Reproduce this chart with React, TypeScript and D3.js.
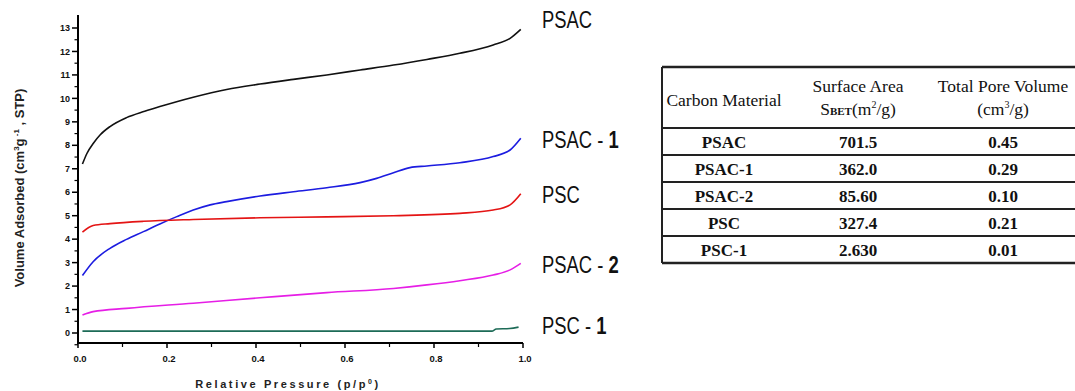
import React from "react";
import * as d3 from "d3";

const xTicks = [0, 0.2, 0.4, 0.6, 0.8, 1.0];
const xMinor = [0.1, 0.3, 0.5, 0.7, 0.9];
const yTicks = [0, 1, 2, 3, 4, 5, 6, 7, 8, 9, 10, 11, 12, 13];

const psacP = [0.01, 0.02, 0.035, 0.05, 0.072, 0.109, 0.15, 0.184, 0.259, 0.334, 0.409, 0.484, 0.559, 0.634, 0.709, 0.784, 0.858, 0.933, 0.971, 0.995];
const psacV = [7.2, 7.65, 8.1, 8.45, 8.8, 9.18, 9.45, 9.65, 10.05, 10.38, 10.61, 10.81, 11.0, 11.21, 11.42, 11.66, 11.92, 12.28, 12.56, 12.94];

const psac1P = [0.01, 0.034, 0.072, 0.109, 0.147, 0.184, 0.222, 0.259, 0.297, 0.334, 0.409, 0.484, 0.559, 0.634, 0.671, 0.709, 0.746, 0.784, 0.858, 0.933, 0.971, 0.995];
const psac1V = [2.45, 3.04, 3.61, 3.99, 4.32, 4.65, 4.96, 5.24, 5.46, 5.6, 5.84, 6.02, 6.19, 6.41, 6.59, 6.83, 7.05, 7.12, 7.26, 7.52, 7.8, 8.3];

const pscP = [0.01, 0.034, 0.072, 0.147, 0.259, 0.409, 0.559, 0.709, 0.858, 0.933, 0.971, 0.995];
const pscV = [4.3, 4.58, 4.66, 4.76, 4.84, 4.91, 4.95, 5.0, 5.1, 5.24, 5.46, 5.93];

const psac2P = [0.01, 0.034, 0.109, 0.259, 0.409, 0.559, 0.709, 0.784, 0.858, 0.933, 0.971, 0.995];
const psac2V = [0.77, 0.91, 1.05, 1.27, 1.5, 1.72, 1.9, 2.05, 2.23, 2.47, 2.69, 2.97];

const psc1P = [0.01, 0.3, 0.6, 0.93, 0.94, 0.97, 0.99];
const psc1V = [0.08, 0.08, 0.08, 0.08, 0.17, 0.19, 0.25];

const seriesNames = ["PSAC", "PSAC-1", "PSC", "PSAC-2", "PSC-1"];
const seriesColors = ["#111111", "#1c1ce0", "#e41414", "#e61ee6", "#1d6b57"];
const labelMain = ["PSAC", "PSAC - ", "PSC", "PSAC - ", "PSC - "];
const labelBold = ["", "1", "", "2", "1"];
const labelY = [28, 148, 203, 273, 334];

const tableHeader1 = ["Carbon Material", "Surface Area", "Total Pore Volume"];
const tableMaterials = ["PSAC", "PSAC-1", "PSAC-2", "PSC", "PSC-1"];
const tableSurface = ["701.5", "362.0", "85.60", "327.4", "2.630"];
const tablePore = ["0.45", "0.29", "0.10", "0.21", "0.01"];

export default function App() {
  const x = d3.scaleLinear().domain([0, 1]).range([78, 523]);
  const y = d3.scaleLinear().domain([0, 13]).range([333, 28]);
  const yMinor = d3.range(-0.5, 13.5, 0.5).filter((v) => v % 1 !== 0);
  const line = d3
    .line<[number, number]>()
    .x((d) => x(d[0]))
    .y((d) => y(d[1]))
    .curve(d3.curveMonotoneX);

  const series = [
    psacP.map((p, i) => [p, psacV[i]] as [number, number]),
    psac1P.map((p, i) => [p, psac1V[i]] as [number, number]),
    pscP.map((p, i) => [p, pscV[i]] as [number, number]),
    psac2P.map((p, i) => [p, psac2V[i]] as [number, number]),
    psc1P.map((p, i) => [p, psc1V[i]] as [number, number]),
  ];

  const axisY0 = 343;
  const axisTop = 15;
  const tickFont = "Arial, 'Liberation Sans', sans-serif";

  const tLeft = 662;
  const tTop = 67;
  const tHeadBottom = 128;
  const rowH = 27;
  const colX = [724, 858, 1003];

  return (
    <svg
      width={1075}
      height={391}
      style={{ position: "absolute", left: 0, top: 0, background: "#fff" }}
    >
      <rect x={0} y={0} width={1075} height={391} fill="#fff" />
      <line x1={x(0)} x2={x(0)} y1={axisTop} y2={axisY0} stroke="#000" strokeWidth={2} />
      <line x1={x(0) - 1} x2={x(1)} y1={axisY0} y2={axisY0} stroke="#000" strokeWidth={2} />
      {yTicks.map((t) => (
        <g key={"yt" + t}>
          <line x1={x(0) - 6} x2={x(0)} y1={y(t)} y2={y(t)} stroke="#000" strokeWidth={1.5} />
          <text
            x={70}
            y={y(t)}
            dy="0.35em"
            textAnchor="end"
            fontFamily={tickFont}
            fontWeight="bold"
            fontSize={9}
            fill="#111"
          >
            {t}
          </text>
        </g>
      ))}
      {yMinor.map((t) => (
        <line key={"ym" + t} x1={x(0) - 3.5} x2={x(0)} y1={y(t)} y2={y(t)} stroke="#000" strokeWidth={1.2} />
      ))}
      {xTicks.map((t) => (
        <g key={"xt" + t}>
          <line x1={x(t)} x2={x(t)} y1={axisY0} y2={axisY0 + 5} stroke="#000" strokeWidth={1.5} />
          <text
            x={x(t) + 2}
            y={362}
            textAnchor="middle"
            fontFamily={tickFont}
            fontWeight="bold"
            fontSize={9.5}
            fill="#111"
          >
            {t.toFixed(1)}
          </text>
        </g>
      ))}
      {xMinor.map((t) => (
        <line key={"xm" + t} x1={x(t)} x2={x(t)} y1={axisY0} y2={axisY0 + 4} stroke="#000" strokeWidth={1.2} />
      ))}
      <text
        x={288}
        y={388}
        textAnchor="middle"
        fontFamily={tickFont}
        fontWeight="bold"
        fontSize={11}
        fill="#222"
        letterSpacing={2.6}
      >
        Relative Pressure (p/p<tspan dy={-4} fontSize={7}>0</tspan><tspan dy={4}>)</tspan>
      </text>
      <text
        transform="translate(24,188) rotate(-90)"
        textAnchor="middle"
        fontFamily={tickFont}
        fontWeight="bold"
        fontSize={13}
        fill="#222"
      >
        Volume Adsorbed (cm<tspan dy={-5} fontSize={8}>3</tspan>
        <tspan dy={5}>g</tspan>
        <tspan dy={-5} fontSize={8}> -1</tspan>
        <tspan dy={5}> , STP)</tspan>
      </text>
      {series.map((s, i) => (
        <path key={seriesNames[i]} d={line(s) || ""} fill="none" stroke={seriesColors[i]} strokeWidth={1.6} />
      ))}
      {labelMain.map((l, i) => (
        <g key={"lab" + i} transform={`translate(542,${labelY[i]}) scale(0.8,1)`}>
          <text x={0} y={0} fontFamily={tickFont} fontSize={23} fill="#111">
            {l}
            {labelBold[i] && <tspan fontWeight="bold">{labelBold[i]}</tspan>}
          </text>
        </g>
      ))}
      <g fontFamily="'Liberation Serif', 'Times New Roman', serif" fill="#111">
        <line x1={tLeft} x2={1075} y1={tTop} y2={tTop} stroke="#222" strokeWidth={2.5} />
        <line x1={tLeft} x2={tLeft} y1={tTop} y2={tHeadBottom + rowH * 5} stroke="#222" strokeWidth={2} />
        <line x1={tLeft} x2={1075} y1={tHeadBottom} y2={tHeadBottom} stroke="#222" strokeWidth={2} />
        {tableMaterials.map((m, i) => (
          <line
            key={"rl" + i}
            x1={tLeft}
            x2={1075}
            y1={tHeadBottom + rowH * (i + 1)}
            y2={tHeadBottom + rowH * (i + 1)}
            stroke="#222"
            strokeWidth={i === 4 ? 2.5 : 2}
          />
        ))}
        <text x={colX[0]} y={106} textAnchor="middle" fontSize={17.5}>
          {tableHeader1[0]}
        </text>
        <text x={colX[1]} y={92} textAnchor="middle" fontSize={17.5}>
          {tableHeader1[1]}
        </text>
        <text x={colX[1]} y={115} textAnchor="middle" fontSize={17.5}>
          S<tspan fontSize={11} fontWeight="bold">BET</tspan>(m<tspan dy={-7} fontSize={10}>2</tspan>
          <tspan dy={7}>/g)</tspan>
        </text>
        <text x={colX[2]} y={92} textAnchor="middle" fontSize={17.5}>
          {tableHeader1[2]}
        </text>
        <text x={colX[2]} y={115} textAnchor="middle" fontSize={17.5}>
          (cm<tspan dy={-7} fontSize={10}>3</tspan>
          <tspan dy={7}>/g)</tspan>
        </text>
        {tableMaterials.map((m, i) => {
          const cy = tHeadBottom + rowH * i + rowH / 2 + 6;
          return (
            <g key={"row" + i} fontSize={17} fontWeight="bold">
              <text x={colX[0]} y={cy} textAnchor="middle">
                {m}
              </text>
              <text x={colX[1]} y={cy} textAnchor="middle">
                {tableSurface[i]}
              </text>
              <text x={colX[2]} y={cy} textAnchor="middle">
                {tablePore[i]}
              </text>
            </g>
          );
        })}
      </g>
    </svg>
  );
}
